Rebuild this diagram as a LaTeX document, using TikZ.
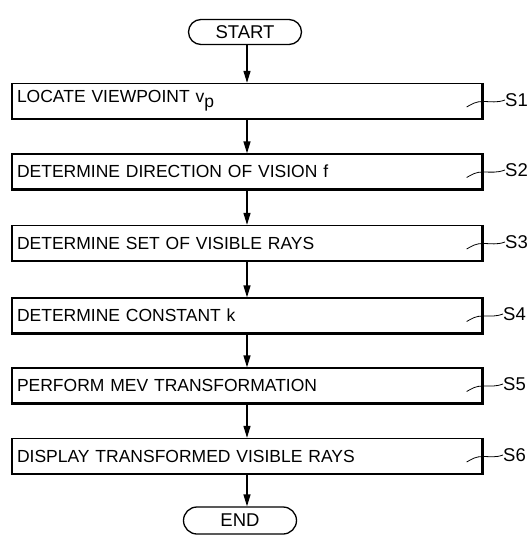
\documentclass[tikz,border=0pt]{standalone}
\usepackage{fontspec}
\setmainfont{Liberation Sans}
\usetikzlibrary{arrows.meta,shapes.misc}
\begin{document}
\begin{tikzpicture}[x=1pt,y=-1pt,
  every node/.style={font=\fontsize{17.5}{20}\selectfont},
  stepbox/.style={draw,line width=1.3pt,minimum width=470pt,minimum height=35pt,
    text width=460pt,align=left,inner sep=5pt},
  term/.style={draw,line width=1.3pt,rounded rectangle,minimum width=117pt,minimum height=25pt,inner sep=2pt,
    font=\fontsize{18.5}{20}\selectfont},
  flow/.style={line width=1.3pt,-{Triangle[length=12pt,width=7pt]}},
  lead/.style={line width=0.8pt},
  tag/.style={anchor=west,inner sep=0pt,font=\fontsize{18.5}{20}\selectfont}]
\useasboundingbox (0,0) rectangle (528,541);
\node[term] (start) at (245,32) {START};
\node[stepbox] (s1) at (247,101) {LOCATE VIEWPOINT v\raisebox{-5pt}{p}};
\node[stepbox] (s2) at (247,171.5) {DETERMINE DIRECTION OF VISION f};
\node[stepbox] (s3) at (247,243) {DETERMINE SET OF VISIBLE RAYS};
\node[stepbox] (s4) at (247,315.5) {DETERMINE CONSTANT k};
\node[stepbox] (s5) at (247,385.5) {PERFORM MEV TRANSFORMATION};
\node[stepbox] (s6) at (247,456) {DISPLAY TRANSFORMED VISIBLE RAYS};
\node[term,minimum height=27pt] (end) at (240,520.5) {END};
\foreach \b in {s1,s2,s3,s4,s5,s6}{
  \draw[line width=2.2pt] (\b.north east) -- (\b.south east) -- (\b.south west);
}
\node[tag] (l1) at (505,100) {S1};
\node[tag] (l2) at (505,170) {S2};
\node[tag] (l3) at (505,242) {S3};
\node[tag] (l4) at (503,314) {S4};
\node[tag] (l5) at (503,384) {S5};
\node[tag] (l6) at (503,455) {S6};
\foreach \b/\l in {s1/l1,s2/l2,s3/l3,s4/l4,s5/l5,s6/l6}{
  \draw[lead] ([xshift=-16pt,yshift=-6pt]\b.east) to[out=30,in=180] ([yshift=-0.5pt]\b.east)
     to[out=0,in=200] (\l.west);
}
\draw[flow] (start.south -| s1.north) -- (s1.north);
\draw[flow] (s1) -- (s2);
\draw[flow] (s2) -- (s3);
\draw[flow] (s3) -- (s4);
\draw[flow] (s4) -- (s5);
\draw[flow] (s5) -- (s6);
\draw[flow] (s6.south) -- (s6.south |- end.north);
\end{tikzpicture}
\end{document}
